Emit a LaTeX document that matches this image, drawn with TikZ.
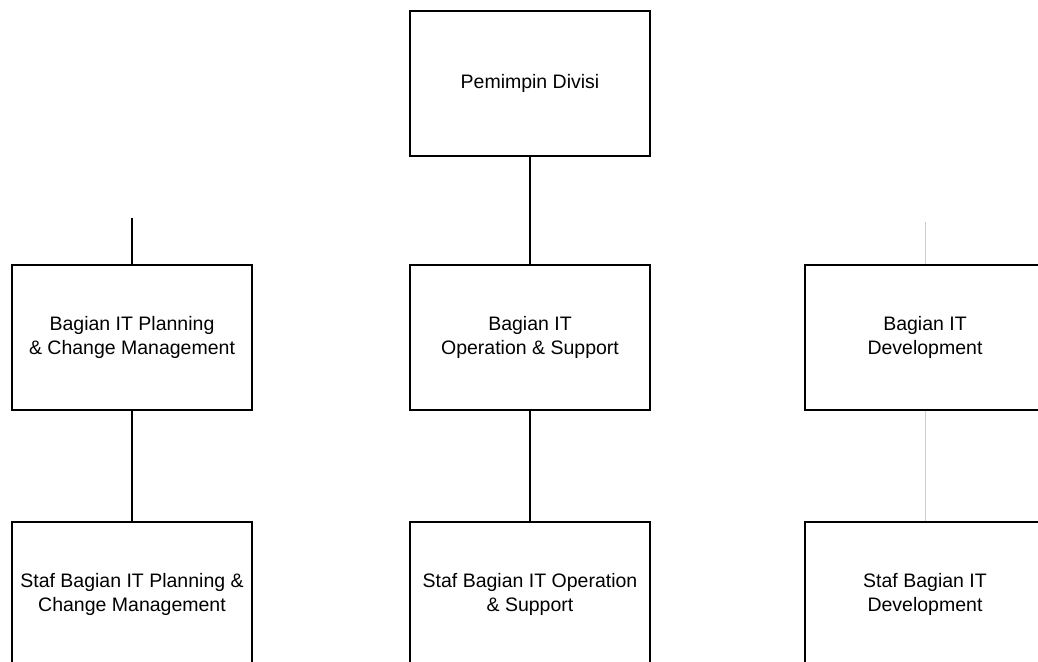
\documentclass[tikz,border=0pt]{standalone}
\usepackage{fontspec}
\setmainfont{Liberation Sans}
\usepackage{xcolor}
\usetikzlibrary{shapes,arrows,arrows.meta}

\begin{document}
\begin{tikzpicture}[x=1pt, y=1pt, box/.style={rectangle, draw=black, line width=1.6pt, fill=white, inner sep=0, minimum width=240pt, minimum height=145pt, align=center, font=\fontsize{19.5}{24}\selectfont}, line/.style={draw=black, line width=1.6pt}, faint/.style={draw=black!20, line width=1pt}]

  \useasboundingbox (0,0) rectangle (1038,-661);

  \node[box] (boxPemimpin)        at (530,-83.5)  {Pemimpin Divisi};

  \node[box] (boxPlanning)        at (132,-337.5) {Bagian IT Planning\\\& Change Management};
  \node[box] (boxOperation)       at (530,-337.5) {Bagian IT\\Operation \& Support};
  \node[box] (boxDevelopment)     at (925,-337.5) {Bagian IT\\Development};

  \node[box] (boxStafPlanning)    at (132,-594.5) {Staf Bagian IT Planning \&\\Change Management};
  \node[box] (boxStafOperation)   at (530,-594.5) {Staf Bagian IT Operation\\\& Support};
  \node[box] (boxStafDevelopment) at (925,-594.5) {Staf Bagian IT\\Development};

  \coordinate (stubPlanning)    at (132,-218);
  \coordinate (stubDevelopment) at (925,-222);

  \draw [line]  (boxPemimpin)    -- (boxOperation);
  \draw [line]  (stubPlanning)   -- (boxPlanning);
  \draw [line]  (boxPlanning)    -- (boxStafPlanning);
  \draw [line]  (boxOperation)   -- (boxStafOperation);
  \draw [faint] (stubDevelopment) -- (boxDevelopment);
  \draw [faint] (boxDevelopment) -- (boxStafDevelopment);
\end{tikzpicture}
\end{document}
